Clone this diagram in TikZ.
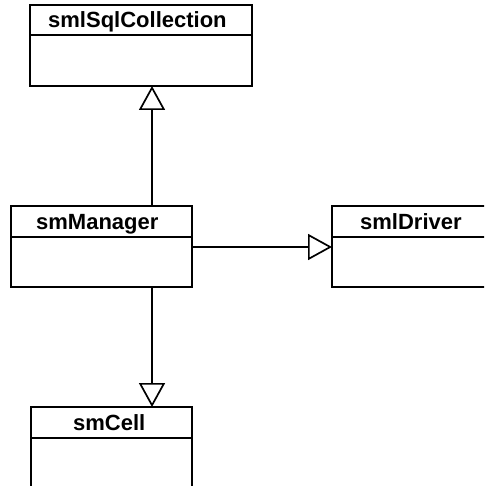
\documentclass[tikz,border=0pt]{standalone}
\usepackage{fontspec}
\setmainfont{Liberation Sans}
\usetikzlibrary{arrows.meta}
\begin{document}
\begin{tikzpicture}[x=1pt,y=-1pt,
  classbox/.style={draw, line width=1.8pt, rectangle, inner sep=0pt, outer sep=0pt, anchor=north west},
  divider/.style={line width=1.8pt},
  classname/.style={anchor=base west, inner sep=0pt, font=\fontsize{22}{26}\selectfont\bfseries},
  realize/.style={line width=1.7pt, -{Triangle[length=24pt, width=26pt, fill=white, line width=1.7pt]}}]
\clip (0,0) rectangle (484,486);
\fill[white] (0,0) rectangle (484,486);

% class boxes
\node[classbox, minimum width=222pt, minimum height=81pt] (coll) at (30,5) {};
\node[classbox, minimum width=181pt, minimum height=81pt] (mgr) at (11,206) {};
\node[classbox, minimum width=170pt, minimum height=81pt] (drv) at (332,206) {};
\node[classbox, minimum width=161pt, minimum height=100pt] (cell) at (31,407) {};

% header dividers
\draw[divider] (30,35) -- (252,35);
\draw[divider] (11,237) -- (192,237);
\draw[divider] (332,237) -- (502,237);
\draw[divider] (31,438) -- (192,438);

% class names
\node[classname] (collname) at (48,28) {smlSqlCollection};
\node[classname] (mgrname) at (36,229.4) {smManager};
\node[classname] (drvname) at (360,229.4) {smlDriver};
\node[classname] (cellname) at (73,430.5) {smCell};

% connectors
\coordinate (axis) at (152,0);
\coordinate (level) at (0,247);
\draw[realize] (mgr.north -| axis) -- (coll.south -| axis);
\draw[realize] (mgr.east |- level) -- (drv.west |- level);
\draw[realize] (mgr.south -| axis) -- (cell.north -| axis);
\end{tikzpicture}
\end{document}
